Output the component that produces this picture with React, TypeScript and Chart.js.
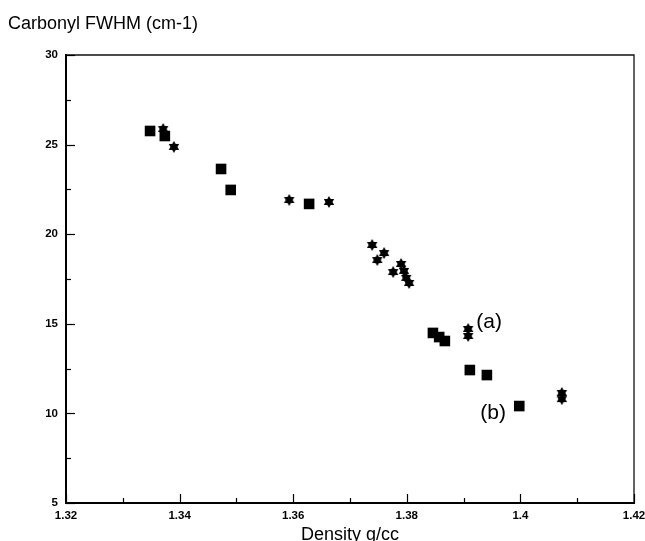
import { useEffect, useRef } from "react";
import { Chart, registerables } from "chart.js";

Chart.register(...registerables);

// ---- data ----
const squareDensity = [1.3348, 1.3374, 1.3473, 1.349, 1.3628, 1.3846, 1.3857, 1.3867, 1.3911, 1.3941, 1.3998];
const squareFwhm = [25.76, 25.48, 23.64, 22.47, 21.69, 14.49, 14.26, 14.04, 12.42, 12.14, 10.41];

const starDensity = [1.3371, 1.339, 1.3593, 1.3663, 1.3739, 1.376, 1.3748, 1.3776, 1.379, 1.3795, 1.3799, 1.3804, 1.3908, 1.3908, 1.4073, 1.4073];
const starFwhm = [25.87, 24.87, 21.91, 21.8, 19.4, 18.95, 18.56, 17.89, 18.34, 17.95, 17.56, 17.28, 14.71, 14.32, 11.14, 10.8];

const xMajorTicks = [1.32, 1.34, 1.36, 1.38, 1.4, 1.42];
const xMinorTicks = [1.33, 1.35, 1.37, 1.39, 1.41];
const yMajorTicks = [5, 10, 15, 20, 25, 30];
const yMinorTicks = [7.5, 12.5, 17.5, 22.5, 27.5];

const annotationLabels = ["(a)", "(b)"];
const annotationDensity = [1.3945, 1.3952];
const annotationFwhm = [15.1, 10.0];

const yTitle = "Carbonyl FWHM (cm-1)";
const xTitle = "Density g/cc";

const FONT = "'Liberation Sans', Arial, Helvetica, sans-serif";

function makeStar(size: number): HTMLCanvasElement {
  const c = document.createElement("canvas");
  c.width = size;
  c.height = size;
  const ctx = c.getContext("2d")!;
  const cx = size / 2;
  const r = size / 2;
  ctx.fillStyle = "#000";
  for (const start of [-90, 90]) {
    ctx.beginPath();
    for (let k = 0; k < 3; k++) {
      const a = ((start + k * 120) * Math.PI) / 180;
      const px = cx + r * Math.cos(a);
      const py = cx + r * Math.sin(a);
      if (k === 0) ctx.moveTo(px, py);
      else ctx.lineTo(px, py);
    }
    ctx.closePath();
    ctx.fill();
  }
  return c;
}

const decorPlugin = {
  id: "decor",
  afterDatasetsDraw(chart: any) {
    const { ctx, chartArea, scales } = chart;
    const xs = scales.x;
    const ys = scales.y;
    ctx.save();
    // top and right frame
    ctx.strokeStyle = "#111";
    ctx.lineWidth = 1.3;
    ctx.beginPath();
    ctx.moveTo(chartArea.left, chartArea.top);
    ctx.lineTo(chartArea.right, chartArea.top);
    ctx.lineTo(chartArea.right, chartArea.bottom);
    ctx.stroke();

    // inward ticks
    ctx.strokeStyle = "#000";
    ctx.lineWidth = 1.2;
    const drawX = (vals: number[], len: number) => {
      for (const v of vals) {
        const px = Math.round(xs.getPixelForValue(v)) + 0.5;
        ctx.beginPath();
        ctx.moveTo(px, chartArea.bottom);
        ctx.lineTo(px, chartArea.bottom - len);
        ctx.stroke();
      }
    };
    const drawY = (vals: number[], len: number) => {
      for (const v of vals) {
        const py = Math.round(ys.getPixelForValue(v)) + 0.5;
        ctx.beginPath();
        ctx.moveTo(chartArea.left, py);
        ctx.lineTo(chartArea.left + len, py);
        ctx.stroke();
      }
    };
    drawX(xMajorTicks, 9);
    drawX(xMinorTicks, 5);
    drawY(yMajorTicks, 9);
    drawY(yMinorTicks, 5);

    // annotations
    ctx.fillStyle = "#000";
    ctx.font = `21px ${FONT}`;
    ctx.textAlign = "center";
    ctx.textBaseline = "middle";
    annotationLabels.forEach((t, i) => {
      ctx.fillText(t, xs.getPixelForValue(annotationDensity[i]), ys.getPixelForValue(annotationFwhm[i]));
    });

    // y title at top-left
    ctx.font = `18px ${FONT}`;
    ctx.textAlign = "left";
    ctx.textBaseline = "alphabetic";
    ctx.fillText(yTitle, 8, 29);
    ctx.restore();
  },
};

export default function App() {
  const ref = useRef<HTMLCanvasElement>(null);

  useEffect(() => {
    if (!ref.current) return;
    const star = makeStar(12);
    const chart = new Chart(ref.current, {
      type: "scatter",
      data: {
        datasets: [
          {
            label: "squares",
            data: squareDensity.map((x, i) => ({ x, y: squareFwhm[i] })),
            pointStyle: "rect",
            pointRadius: 7.5,
            backgroundColor: "#000",
            borderColor: "#000",
            borderWidth: 0,
          },
          {
            label: "stars",
            data: starDensity.map((x, i) => ({ x, y: starFwhm[i] })),
            pointStyle: star as any,
            pointRadius: 6,
            backgroundColor: "#000",
            borderColor: "#000",
          },
        ],
      },
      options: {
        animation: false,
        responsive: false,
        devicePixelRatio: 1,
        layout: { padding: { left: 0, top: 55, right: 11, bottom: 0 } },
        plugins: { legend: { display: false }, tooltip: { enabled: false }, title: { display: false } },
        scales: {
          x: {
            type: "linear",
            min: 1.32,
            max: 1.42,
            afterBuildTicks: (s: any) => {
              s.ticks = xMajorTicks.map((v) => ({ value: v }));
            },
            afterFit: (s: any) => {
              s.height = 38;
              s.paddingLeft = 0;
              s.paddingRight = 0;
            },
            grid: { display: false, drawTicks: false },
            border: { display: true, width: 2, color: "#000" },
            ticks: {
              autoSkip: false,
              maxRotation: 0,
              padding: 6,
              color: "#000",
              font: { family: FONT, size: 11.5, weight: "bold" },
              callback: (v: any) => String(Number(v)),
            },
            title: {
              display: true,
              text: xTitle,
              color: "#000",
              font: { family: FONT, size: 18 },
              padding: { top: 0, bottom: -5 },
            },
          },
          y: {
            type: "linear",
            min: 5,
            max: 30,
            afterBuildTicks: (s: any) => {
              s.ticks = yMajorTicks.map((v) => ({ value: v }));
            },
            afterFit: (s: any) => {
              s.width = 66;
              s.paddingTop = 0;
              s.paddingBottom = 0;
            },
            grid: { display: false, drawTicks: false },
            border: { display: true, width: 2, color: "#000" },
            ticks: {
              autoSkip: false,
              padding: 8,
              color: "#000",
              font: { family: FONT, size: 11.5, weight: "bold" },
              callback: (v: any) => String(Number(v)),
            },
          },
        },
      },
      plugins: [decorPlugin],
    });
    return () => chart.destroy();
  }, []);

  return (
    <div style={{ position: "fixed", left: 0, top: 0, width: 645, height: 541, background: "#fff" }}>
      <canvas ref={ref} width={645} height={541} style={{ display: "block" }} />
    </div>
  );
}
